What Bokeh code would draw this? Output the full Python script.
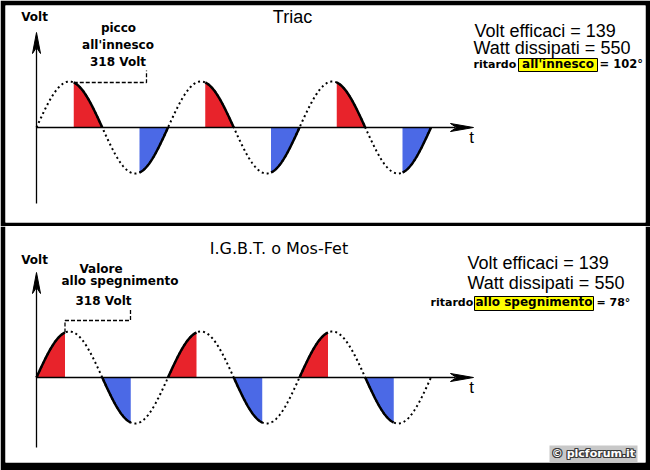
import numpy as np
from bokeh.plotting import figure
from bokeh.layouts import column
from bokeh.models import Label, Range1d
from bokeh.embed import file_html
from bokeh.resources import INLINE

# ---------------- data ----------------
panel_titles = ["Triac", "I.G.B.T. o  Mos-Fet"]
peak_volt = 318
volt_efficaci = [139, 139]
watt_dissipati = [550, 550]
delay_deg = [102, 78]
delay_names = ["all'innesco", "allo spegnimento"]
peak_labels = [["picco", "all'innesco", "318 Volt"],
               ["Valore", "allo spegnimento", "318 Volt"]]
cycles = 3
# Triac conducts from the firing angle to the end of each half wave,
# the IGBT / Mos-Fet conducts from the start of the half wave up to switch-off.
conduction_mode = ["after", "before"]

RED = "#e8232b"
BLUE = "#4b69e6"

# ---------------- geometry (page pixels -> data) ----------------
PPD = 131.5 / 360.0     # pixels per degree
PPV = 46.0 / peak_volt  # pixels per volt
OX = 36.0               # page x of the origin
SHIFT = 0.38            # text baseline correction (fraction of font size)


def X(px):
    return (px - OX) / PPD


def make_panel(idx, height, b_top, b_bot, oy, f_top, f_bot):
    def Y(py):
        return (oy - py) / PPV

    p = figure(width=650, height=height, output_backend="svg", toolbar_location=None,
               tools="", x_axis_type=None, y_axis_type=None,
               min_border_left=5, min_border_right=5,
               min_border_top=b_top, min_border_bottom=b_bot,
               x_range=Range1d(X(5), X(645)), y_range=Range1d(Y(f_bot), Y(f_top)))
    p.border_fill_color = "black"
    p.background_fill_color = "white"
    p.outline_line_color = None

    d = delay_deg[idx]
    ang = np.linspace(0, 360 * cycles, 1200)
    volt = peak_volt * np.sin(np.radians(ang))

    # conduction areas
    for k in range(cycles):
        for half, col in ((0, RED), (180, BLUE)):
            base = 360 * k + half
            if conduction_mode[idx] == "after":
                a0, a1 = base + d, base + 180
            else:
                a0, a1 = base, base + d
            a = np.linspace(a0, a1, 80)
            v = peak_volt * np.sin(np.radians(a))
            p.varea(x=a, y1=np.zeros_like(a), y2=v, fill_color=col)
            p.line(a, v, line_color="black", line_width=2.5)

    # dotted sine
    p.line(ang, volt, line_color="black", line_width=2, line_dash="2 3")

    # axes
    ybot = {127: 203, 377: 447}[oy]
    ytip = {127: 32, 377: 272}[oy]
    p.segment(x0=[X(36), X(36)], y0=[Y(oy), Y(ybot)], x1=[X(455), X(36)], y1=[Y(oy), Y(ytip + 15)],
              line_color="black", line_width=1.3)
    # arrow heads
    p.patch([X(473), X(450), X(456), X(450)], [Y(oy), Y(oy - 4), Y(oy), Y(oy + 4)], color="black")
    p.patch([X(36), X(32), X(36), X(40)], [Y(ytip), Y(ytip + 21), Y(ytip + 15), Y(ytip + 21)], color="black")

    def lab(px, py, text, size, font="Liberation Sans", style="normal", align="left", color="black",
            xo=0, yo=0):
        py = py - SHIFT * size
        p.add_layout(Label(x=X(px + xo), y=Y(py + yo), text=text, text_font=font,
                           text_font_size="%gpx" % size,
                           text_font_style=style, text_align=align, text_baseline="alphabetic",
                           text_color=color))

    bold = "DejaVu Sans"
    lab(471, oy + 16, "t", 17, align="center")
    lab(34, {127: 21, 377: 264}[oy], "Volt", 12, font=bold, style="bold", align="center")

    if idx == 0:
        lab(292, 23, panel_titles[0], 18, align="center")
        for t, (cx, by) in zip(peak_labels[0], [(118, 32), (117.5, 49), (117.5, 66)]):
            lab(cx, by, t, 12, font=bold, style="bold", align="center")
        pk = (d, peak_volt * np.sin(np.radians(d)))
        p.line([pk[0], X(146), X(146)], [pk[1], pk[1], Y(70)], line_color="black",
               line_width=1.3, line_dash="4 2")
        lab(474, 37, "Volt efficaci = %d" % volt_efficaci[0], 18)
        lab(473, 54, "Watt dissipati = %d" % watt_dissipati[0], 18)
        p.quad(left=[X(518)], right=[X(597)], top=[Y(58)], bottom=[Y(71)],
               fill_color="#ffff00", line_color="black", line_width=1)
        lab(473, 68, "ritardo", 11, font=bold, style="bold")
        lab(557.5, 68, delay_names[0], 12, font=bold, style="bold", align="center")
        lab(599, 68, "= %d°" % d, 11.5, font=bold, style="bold")
    else:
        lab(281, 254, panel_titles[1], 16, font="DejaVu Sans", align="center")
        for t, (cx, by) in zip(peak_labels[1], [(100.5, 273), (119.5, 285), (103, 305)]):
            lab(cx, by, t, 12, font=bold, style="bold", align="center")
        pk = (d, peak_volt * np.sin(np.radians(d)))
        p.line([pk[0], pk[0], X(130), X(130)], [pk[1], Y(320), Y(320), Y(308)], line_color="black",
               line_width=1.3, line_dash="4 2")
        lab(467, 269, "Volt efficaci = %d" % volt_efficaci[1], 18)
        lab(467, 289, "Watt dissipati = %d" % watt_dissipati[1], 18)
        p.quad(left=[X(474)], right=[X(593)], top=[Y(296)], bottom=[Y(310)],
               fill_color="#ffff00", line_color="black", line_width=1)
        lab(430, 306, "ritardo", 11, font=bold, style="bold")
        lab(533.5, 306, delay_names[1], 12, font=bold, style="bold", align="center")
        lab(596, 306, "= %d°" % d, 11, font=bold, style="bold")
        # copyright
        p.quad(left=[X(549)], right=[X(637)], top=[Y(445)], bottom=[Y(462)],
               fill_color="#c8c8c8", line_color=None)
        for xo, yo in [(-1, 0), (1, 0), (0, -1), (0, 1), (-1, -1), (1, 1), (-1, 1), (1, -1)]:
            lab(593, 457, "© plcforum.it", 11, font=bold, style="bold", align="center",
                color="#3a3a3a", xo=xo, yo=yo)
        lab(593, 457, "© plcforum.it", 11, font=bold, style="bold", align="center", color="white")
    return p


top = make_panel(0, 226, 5, 4, 127, 5, 222)
bottom = make_panel(1, 244, 0, 8, 377, 226, 462)
layout = column(top, bottom, spacing=0)

open("out.html", "w").write(file_html(layout, INLINE))
